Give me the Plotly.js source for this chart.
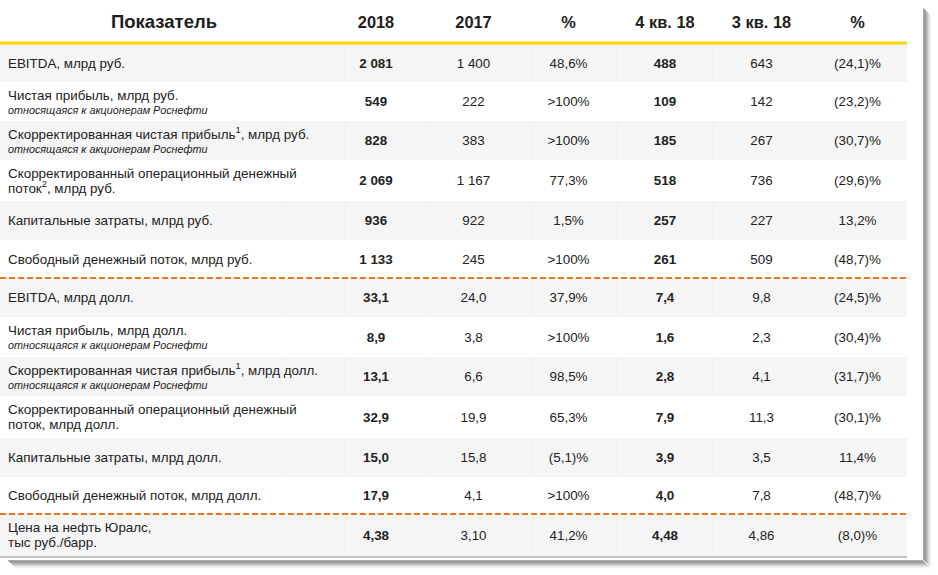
<!DOCTYPE html>
<html><head><meta charset="utf-8">
<script src="https://cdn.plot.ly/plotly-3.0.1.min.js"></script>
<style>html,body{margin:0;padding:0;background:#fff}#chart{width:938px;height:575px}</style>
</head><body><div id="chart"></div>
<script>
// ---- data ----
const headers = ["Показатель", "2018", "2017", "%", "4 кв. 18", "3 кв. 18", "%"];
const labelLine1 = [
  "EBITDA, млрд руб.",
  "Чистая прибыль, млрд руб.",
  "Скорректированная чистая прибыль<sup>1</sup>, млрд руб.",
  "Скорректированный операционный денежный",
  "Капитальные затраты, млрд руб.",
  "Свободный денежный поток, млрд руб.",
  "EBITDA, млрд долл.",
  "Чистая прибыль, млрд долл.",
  "Скорректированная чистая прибыль<sup>1</sup>, млрд долл.",
  "Скорректированный операционный денежный",
  "Капитальные затраты, млрд долл.",
  "Свободный денежный поток, млрд долл.",
  "Цена на нефть Юралс,"
];
const labelLine2 = [
  "",
  "относящаяся к акционерам Роснефти",
  "относящаяся к акционерам Роснефти",
  "поток<sup>2</sup>, млрд руб.",
  "", "", "",
  "относящаяся к акционерам Роснефти",
  "относящаяся к акционерам Роснефти",
  "поток, млрд долл.",
  "", "",
  "тыс руб./барр."
];
const line2IsNote = [false, true, true, false, false, false, false, true, true, false, false, false, false];
const v2018 = ["2 081", "549", "828", "2 069", "936", "1 133", "33,1", "8,9", "13,1", "32,9", "15,0", "17,9", "4,38"];
const v2017 = ["1 400", "222", "383", "1 167", "922", "245", "24,0", "3,8", "6,6", "19,9", "15,8", "4,1", "3,10"];
const pctYear = ["48,6%", ">100%", ">100%", "77,3%", "1,5%", ">100%", "37,9%", ">100%", "98,5%", "65,3%", "(5,1)%", ">100%", "41,2%"];
const vQ4 = ["488", "109", "185", "518", "257", "261", "7,4", "1,6", "2,8", "7,9", "3,9", "4,0", "4,48"];
const vQ3 = ["643", "142", "267", "736", "227", "509", "9,8", "2,3", "4,1", "11,3", "3,5", "7,8", "4,86"];
const pctQuarter = ["(24,1)%", "(23,2)%", "(30,7)%", "(29,6)%", "13,2%", "(48,7)%", "(24,5)%", "(30,4)%", "(31,7)%", "(30,1)%", "11,4%", "(48,7)%", "(8,0)%"];
const boldColumn = [false, true, false, false, true, false, false];
const separatorAfterRow = [5, 11]; // dashed line below these rows (0-based)

// ---- layout geometry (pixel units of the axes) ----
const W = 938, H = 575;
const tableLeft = 0, tableRight = 907;
const headerTop = 0, headerHeight = 42, ruleHeight = 2;
const rowHeights = [38, 39, 39, 41, 39, 38, 39, 40, 39, 42, 39, 37, 42];
const colCenters = [164, 376, 473.5, 568.5, 665, 761.5, 857.5];
const labelX = 8;
const textDrop = 1.5;
const faintCols = [280, 345, 424, 533, 617, 713];

const rowTop = [];
let yy = headerTop + headerHeight + ruleHeight;
rowHeights.forEach(h => { rowTop.push(yy); yy += h; });
const tableBottom = yy;
const rowMid = rowTop.map((t, i) => t + rowHeights[i] / 2 + textDrop);

const shapes = [];
// grey zebra rows
rowTop.forEach((t, i) => {
  if (i % 2 === 0) {
    shapes.push({type: 'rect', layer: 'below', xref: 'x', yref: 'y', x0: tableLeft, x1: tableRight, y0: t, y1: t + rowHeights[i], fillcolor: '#f5f5f5', line: {width: 0}});
    faintCols.forEach(c => shapes.push({type: 'line', layer: 'below', x0: c, x1: c, y0: t, y1: t + rowHeights[i], line: {color: '#eeeeee', width: 1}}));
  }
});
// yellow header rule
shapes.push({type: 'line', x0: tableLeft, x1: tableRight, y0: headerHeight + 1, y1: headerHeight + 1, line: {color: '#FFD200', width: 3}});
// dashed separators
separatorAfterRow.forEach(r => {
  const y = rowTop[r] + rowHeights[r];
  shapes.push({type: 'line', x0: tableLeft, x1: tableRight, y0: y, y1: y, line: {color: '#EE7623', width: 2, dash: '6px,3px'}});
});
// bottom rule
shapes.push({type: 'line', x0: tableLeft, x1: tableRight, y0: tableBottom + 1, y1: tableBottom + 1, line: {color: '#c4c4c4', width: 2}});
// frame drop shadow
const boxRight = 923, boxBottom = 560;
const alphas = [0.45, 0.55, 0.5, 0.42, 0.32, 0.22, 0.13, 0.07, 0.03];
alphas.forEach((a, k) => {
  shapes.push({type: 'line', layer: 'below', x0: boxRight + k + 0.5, x1: boxRight + k + 0.5, y0: 8 + k, y1: boxBottom + k, line: {color: `rgba(70,70,70,${a})`, width: 1}});
  shapes.push({type: 'line', layer: 'below', x0: 8 + k, x1: boxRight + k, y0: boxBottom + k + 0.5, y1: boxBottom + k + 0.5, line: {color: `rgba(70,70,70,${a})`, width: 1}});
});

const FONT = '"Liberation Sans", Arial, Helvetica, sans-serif';
const traces = [];
// header
traces.push({type: 'scatter', mode: 'text', x: colCenters, y: colCenters.map(() => headerTop + headerHeight / 2 + 2.5),
  text: headers.map(h => '<b>' + h + '</b>'), textposition: 'middle center',
  textfont: {family: FONT, size: headers.map((h, i) => i === 0 ? 18.5 : 16.4), color: '#1e1e1e'}, hoverinfo: 'skip'});

// labels
const l1y = [], l1t = [], l2y = [], l2t = [], n2y = [], n2t = [];
labelLine1.forEach((t, i) => {
  if (!labelLine2[i]) { l1y.push(rowMid[i]); l1t.push(t); }
  else if (line2IsNote[i]) { l1y.push(rowMid[i] - 6.5); l1t.push(t); n2y.push(rowMid[i] + 8); n2t.push('<i>' + labelLine2[i] + '</i>'); }
  else { l1y.push(rowMid[i] - 7.5); l1t.push(t); l2y.push(rowMid[i] + 7.5); l2t.push(labelLine2[i]); }
});
traces.push({type: 'scatter', mode: 'text', x: l1y.map(() => labelX), y: l1y, text: l1t, textposition: 'middle right',
  textfont: {family: FONT, size: 13.4, color: '#222'}, hoverinfo: 'skip'});
traces.push({type: 'scatter', mode: 'text', x: l2y.map(() => labelX), y: l2y, text: l2t, textposition: 'middle right',
  textfont: {family: FONT, size: 13.4, color: '#222'}, hoverinfo: 'skip'});
traces.push({type: 'scatter', mode: 'text', x: n2y.map(() => labelX), y: n2y, text: n2t, textposition: 'middle right',
  textfont: {family: FONT, size: 10.8, color: '#222'}, hoverinfo: 'skip'});

// value columns
[v2018, v2017, pctYear, vQ4, vQ3, pctQuarter].forEach((col, j) => {
  const ci = j + 1;
  traces.push({type: 'scatter', mode: 'text', x: col.map(() => colCenters[ci]), y: rowMid,
    text: col.map(v => boldColumn[ci] ? '<b>' + v + '</b>' : v), textposition: 'middle center',
    textfont: {family: FONT, size: 13.4, color: '#222'}, hoverinfo: 'skip'});
});

const layout = {
  width: W, height: H, margin: {l: 0, r: 0, t: 0, b: 0},
  paper_bgcolor: '#fff', plot_bgcolor: '#fff', showlegend: false,
  xaxis: {range: [0, W], visible: false, fixedrange: true},
  yaxis: {range: [H, 0], visible: false, fixedrange: true},
  shapes: shapes
};
Plotly.newPlot('chart', traces, layout, {displayModeBar: false, staticPlot: true});
</script></body></html>
